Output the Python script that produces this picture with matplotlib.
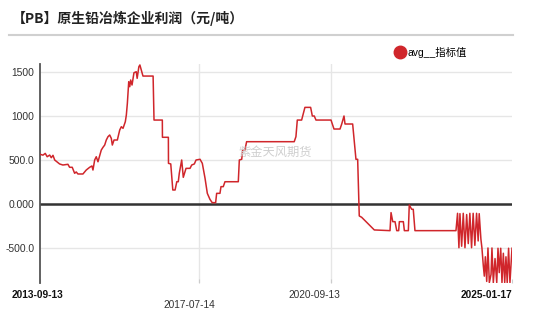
import matplotlib
matplotlib.use('Agg')
import matplotlib.pyplot as plt
import matplotlib.transforms as mtransforms
from matplotlib.lines import Line2D
import pandas as pd

plt.rcParams['font.family'] = ['Liberation Sans', 'Noto Sans CJK SC', 'DejaVu Sans']

# 数据
datas = [
    '2013-09-13', '2013-10-09', '2013-10-29', '2013-11-15', '2013-12-07', '2013-12-21',
    '2014-01-05', '2014-01-20', '2014-03-04', '2014-04-02', '2014-05-16', '2014-05-31',
    '2014-06-23', '2014-07-14', '2014-07-28', '2014-08-12', '2014-09-25', '2014-10-24',
    '2014-11-23', '2014-12-13', '2014-12-22', '2015-01-06', '2015-01-20', '2015-02-04',
    '2015-03-05', '2015-03-20', '2015-04-04', '2015-04-18', '2015-05-03', '2015-05-18',
    '2015-06-01', '2015-06-10', '2015-06-25', '2015-07-24', '2015-08-14', '2015-08-28',
    '2015-09-12', '2015-10-02', '2015-10-11', '2015-10-20', '2015-11-01', '2015-11-10',
    '2015-11-18', '2015-11-30', '2015-12-17', '2016-01-06', '2016-01-14', '2016-01-29',
    '2016-02-07', '2016-02-19', '2016-03-05', '2016-06-02', '2016-06-10', '2016-08-22',
    '2016-08-23', '2016-10-14', '2016-10-15', '2016-11-04', '2016-11-22', '2016-12-12',
    '2016-12-27', '2017-01-09', '2017-01-18', '2017-02-08', '2017-02-22', '2017-03-18',
    '2017-04-22', '2017-05-07', '2017-05-30', '2017-06-14', '2017-07-19', '2017-08-08',
    '2017-09-01', '2017-09-21', '2017-10-14', '2017-11-03', '2017-12-03', '2017-12-12',
    '2018-01-10', '2018-01-19', '2018-02-08', '2018-02-23', '2018-06-20', '2018-06-29',
    '2018-07-20', '2018-07-28', '2018-08-17', '2018-09-01', '2019-10-24', '2019-11-08',
    '2019-11-20', '2019-12-28', '2020-01-26', '2020-03-16', '2020-03-31', '2020-04-17',
    '2020-05-02', '2020-09-11', '2020-10-07', '2020-11-29', '2020-12-14', '2021-01-03',
    '2021-01-12', '2021-03-20', '2021-04-04', '2021-04-18', '2021-05-03', '2021-05-17',
    '2021-06-07', '2021-09-26', '2022-02-11', '2022-02-20', '2022-03-07', '2022-03-27',
    '2022-04-11', '2022-04-28', '2022-05-04', '2022-06-08', '2022-06-17', '2022-07-22',
    '2022-07-30', '2022-08-20', '2022-09-03', '2022-09-18', '2023-09-13', '2023-09-27',
    '2023-10-09', '2023-10-18', '2023-11-02', '2023-11-16', '2023-12-01', '2023-12-16',
    '2023-12-30', '2024-01-13', '2024-01-28', '2024-02-11', '2024-02-26', '2024-03-12',
    '2024-03-26', '2024-04-04', '2024-04-19', '2024-04-28', '2024-05-10', '2024-05-19',
    '2024-05-28', '2024-06-09', '2024-06-20', '2024-07-02', '2024-07-17', '2024-07-25',
    '2024-08-06', '2024-08-21', '2024-09-05', '2024-09-16', '2024-09-27', '2024-10-10',
    '2024-10-21', '2024-11-02', '2024-11-14', '2024-11-25', '2024-12-06', '2024-12-18',
    '2024-12-30', '2025-01-17',
]
valores = [
    565, 555, 575, 537, 556, 526,
    553, 500, 455, 443, 451, 417,
    417, 349, 364, 341, 341, 386,
    417, 432, 386, 500, 537, 480,
    613, 644, 670, 727, 765, 784,
    746, 670, 727, 727, 841, 878,
    860, 935, 1011, 1144, 1389, 1333,
    1409, 1352, 1492, 1503, 1428, 1560,
    1580, 1522, 1454, 1454, 954, 954,
    758, 758, 462, 455, 159, 159,
    253, 253, 349, 500, 303, 405,
    405, 443, 455, 500, 508, 462,
    292, 121, 53, 15, 15, 121,
    121, 197, 197, 253, 253, 500,
    508, 613, 613, 708, 708, 765,
    954, 954, 1098, 1098, 1000, 1000,
    954, 954, 852, 852, 909, 1000,
    909, 909, 708, 508, 508, -136,
    -151, -295, -303, -98, -201, -201,
    -303, -303, -201, -201, -303, -303,
    -11, -60, -60, -303, -303, -106,
    -497, -110, -480, -106, -497, -120,
    -450, -106, -497, -106, -470, -106,
    -420, -110, -400, -500, -700, -820,
    -600, -880, -500, -894, -800, -500,
    -894, -620, -894, -503, -780, -503,
    -894, -560, -894, -600, -894, -503,
    -894, -503,
]
datas_ticks = ['2013-09-13', '2017-07-14', '2020-09-13', '2025-01-17']
y_ticks = [-500, 0, 500, 1000, 1500]
y_labels = ['-500.0', '0.000', '500.0', '1000', '1500']

cor = '#d0262b'

fig = plt.figure(figsize=(5.5, 3.11), dpi=100)
ax = fig.add_axes([40 / 550, 1 - 283 / 311, 472 / 550, 219 / 311])

x = pd.to_datetime(datas)
xt = pd.to_datetime(datas_ticks)

ax.plot(x, valores, color=cor, lw=1.1, zorder=3)
ax.axhline(0, color='#333333', lw=1.8, zorder=2)
for d in xt[1:3]:
    ax.axvline(d, color='#e6e6e6', lw=1, zorder=0)

ax.set_xlim(xt[0], xt[-1])
ax.set_ylim(-898, 1591)

ax.set_yticks(y_ticks)
ax.set_yticklabels(y_labels)
ax.grid(axis='y', color='#e6e6e6', lw=1, zorder=0)
ax.tick_params(axis='y', length=0, pad=4, labelsize=7.4, labelcolor='#333333')

ax.set_xticks(xt)
ax.set_xticklabels(datas_ticks)
ax.tick_params(axis='x', length=3, direction='in', color='#cccccc', pad=5,
               labelsize=7.3, labelcolor='#333333')
rotulos = ax.get_xticklabels()
rotulos[0].set_fontweight('bold')
rotulos[0].set_color('#111111')
rotulos[-1].set_fontweight('bold')
rotulos[-1].set_color('#111111')
rotulos[-1].set_horizontalalignment('right')
deslocamentos = [(-2, 0), (-10, -10), (-17, 0), (0, 0)]
for rot, (dx, dy) in zip(rotulos, deslocamentos):
    rot.set_transform(rot.get_transform() +
                      mtransforms.ScaledTranslation(dx / 100, dy / 100, fig.dpi_scale_trans))

for lado in ['top', 'right', 'bottom']:
    ax.spines[lado].set_visible(False)
ax.spines['left'].set_color('#555555')
ax.spines['left'].set_linewidth(1.3)

# título e linha separadora
fig.text(12 / 550, 1 - 18 / 311, '【PB】原生铅冶炼企业利润（元/吨）', fontsize=10,
         fontweight='bold', va='center', color='#222222',
         family=['Noto Sans CJK SC', 'DejaVu Sans'])
fig.add_artist(Line2D([9 / 550, 513 / 550], [1 - 35 / 311, 1 - 35 / 311],
                      color='#d0d0d0', lw=1.5))

# legenda
marcador = Line2D([], [], marker='o', color=cor, ls='', ms=9)
ax.legend(handles=[marcador], labels=['avg__指标值'], loc='center left',
          bbox_to_anchor=(390 / 550, 1 - 52 / 311), bbox_transform=fig.transFigure,
          frameon=False, borderpad=0, handlelength=1, handletextpad=0.2,
          prop={'size': 7.5, 'family': ['Liberation Sans', 'Noto Sans CJK SC']})

# marca d'água
fig.text(275 / 550, 1 - 152 / 311, '紫金天风期货', fontsize=8.8, color='#cfcfcf',
         ha='center', va='center', family=['Noto Sans CJK SC'], zorder=1)

fig.savefig('out.png', dpi=100)
